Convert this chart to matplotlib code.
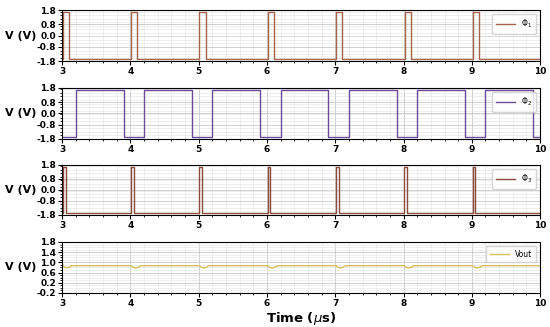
import numpy as np
import matplotlib
matplotlib.use('Agg')
import matplotlib.pyplot as plt
from matplotlib.ticker import AutoMinorLocator

# clock edges (us)
phi1_rise = [3.01, 4.01, 5.01, 6.01, 7.01, 8.015, 9.015]
phi1_fall = [3.10, 4.10, 5.10, 6.10, 7.10, 8.11, 9.11]
phi2_rise = [3.20, 4.20, 5.20, 6.20, 7.20, 8.20, 9.20]
phi2_fall = [3.90, 4.90, 5.90, 6.90, 7.91, 8.90, 9.90]
phi3_rise = [3.015, 4.01, 5.01, 6.01, 7.01, 8.01, 9.01]
phi3_fall = [3.05, 4.05, 5.05, 6.05, 7.05, 8.05, 9.05]
v_high = 1.65
v_low = -1.65

# Vout trace points
vout_t = [3.0, 3.03, 3.06, 3.10, 3.14,
          4.01, 4.04, 4.07, 4.11, 4.15,
          5.01, 5.04, 5.07, 5.11, 5.15,
          6.01, 6.04, 6.07, 6.11, 6.15,
          7.01, 7.04, 7.07, 7.11, 7.15,
          8.01, 8.04, 8.07, 8.11, 8.15,
          9.01, 9.04, 9.07, 9.11, 9.15, 10.0]
vout_v = [0.92, 0.82, 0.79, 0.80, 0.87,
          0.87, 0.81, 0.78, 0.80, 0.87,
          0.87, 0.81, 0.78, 0.80, 0.87,
          0.87, 0.81, 0.78, 0.80, 0.87,
          0.87, 0.81, 0.78, 0.80, 0.87,
          0.87, 0.81, 0.78, 0.80, 0.87,
          0.87, 0.81, 0.78, 0.80, 0.87, 0.87]

phi_ticks = [-1.8, -0.8, 0.0, 0.8, 1.8]
vout_ticks = [-0.2, 0.2, 0.6, 1.0, 1.4, 1.8]


def pulse_wave(rise, fall):
    t = [3.0]
    v = [v_low]
    for r, f in zip(rise, fall):
        t += [r, r, f, f]
        v += [v_low, v_high, v_high, v_low]
    t.append(10.0)
    v.append(v[-1])
    return np.array(t), np.array(v)


def phi2_wave():
    edges = sorted([(r, 'r') for r in phi2_rise] + [(f, 'f') for f in phi2_fall])
    t = [3.0]
    v = [v_low]
    for e, kind in edges:
        cur = v[-1]
        new = v_high if kind == 'r' else v_low
        t += [e, e]
        v += [cur, new]
    t.append(10.0)
    v.append(v[-1])
    return np.array(t), np.array(v)


t1, y1 = pulse_wave(phi1_rise, phi1_fall)
t2, y2 = phi2_wave()
t3, y3 = pulse_wave(phi3_rise, phi3_fall)

fig = plt.figure(figsize=(5.5, 3.27), dpi=100)
rects = [[0.113, 0.813, 0.869, 0.156],
         [0.113, 0.575, 0.869, 0.156],
         [0.113, 0.343, 0.869, 0.153],
         [0.113, 0.104, 0.869, 0.156]]

series = [(t1, y1, '#a8634c', r'$\Phi_1$', phi_ticks, (-1.8, 1.8)),
          (t2, y2, '#6b4c9a', r'$\Phi_2$', phi_ticks, (-1.8, 1.8)),
          (t3, y3, '#8b4a3a', r'$\Phi_3$', phi_ticks, (-1.8, 1.8)),
          (np.array(vout_t), np.array(vout_v), '#d8bf5a', 'Vout', vout_ticks, (-0.2, 1.8))]

axes = []
for rect, (t, y, c, lab, ticks, ylim) in zip(rects, series):
    ax = fig.add_axes(rect)
    ax.plot(t, y, color=c, lw=1.0, label=lab)
    ax.set_xlim(3, 10)
    ax.set_ylim(*ylim)
    ax.set_yticks(ticks)
    ax.set_yticklabels([f'{v:.1f}' for v in ticks])
    ax.set_xticks(range(3, 11))
    ax.xaxis.set_minor_locator(AutoMinorLocator(5))
    ax.yaxis.set_minor_locator(AutoMinorLocator(4))
    ax.grid(which='major', color='#c8c8c8', lw=0.6)
    ax.grid(which='minor', color='#e2e2e2', lw=0.4)
    ax.tick_params(labelsize=6.5, length=3, pad=1.5)
    ax.tick_params(which='minor', length=1.5)
    for lbl in ax.get_xticklabels() + ax.get_yticklabels():
        lbl.set_fontweight('bold')
    ax.set_ylabel('V (V)', fontsize=8, fontweight='bold', rotation=0, ha='center', va='center')
    ax.yaxis.set_label_coords(-0.087, 0.5)
    ax.legend(loc='upper right', fontsize=5.5, handlelength=2.5, borderpad=0.5)
    axes.append(ax)

axes[-1].set_xlabel(r'Time ($\mu$s)', fontsize=9.5, fontweight='bold', labelpad=1)

plt.savefig('out.png', dpi=100)
